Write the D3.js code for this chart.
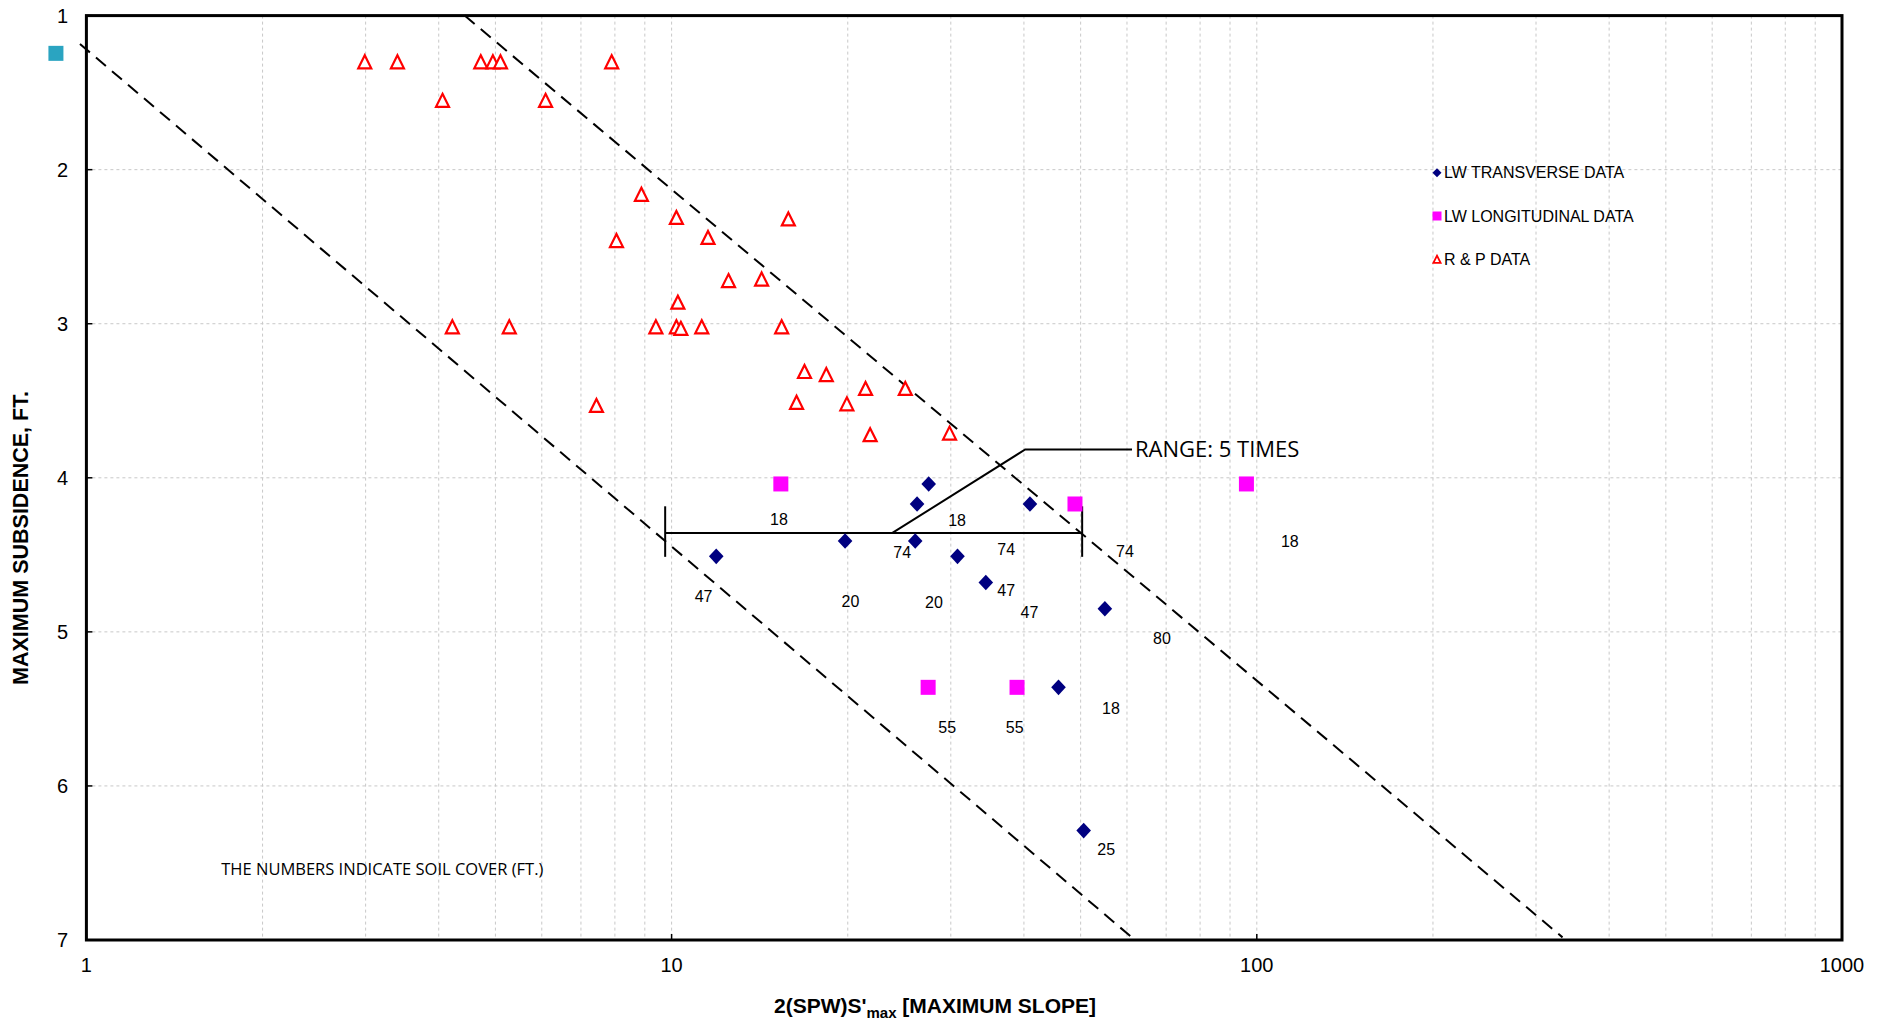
<!DOCTYPE html>
<html>
<head>
<meta charset="utf-8">
<script src="https://cdn.jsdelivr.net/npm/d3@7"></script>
<style>
body { margin: 0; background: #fff; }
text { font-family: Arial, "Liberation Sans", sans-serif; fill: #000; }
.note { font-family: "Open Sans", "Noto Sans", sans-serif; }
</style>
</head>
<body>
<div id="main"></div>
<script>
// axis ticks
var xTicks = [1, 10, 100, 1000];
var yTicks = [1, 2, 3, 4, 5, 6, 7];
var seriesNames = ['LW TRANSVERSE DATA', 'LW LONGITUDINAL DATA', 'R & P DATA'];

// [slope, subsidence]
var lwTransverse = [
  [27.5, 4.04], [26.27, 4.17], [40.96, 4.17], [19.79, 4.41], [26.08, 4.41],
  [11.92, 4.51], [30.8, 4.51], [34.43, 4.68], [55.0, 4.85], [45.83, 5.36],
  [50.6, 6.29]
];
var lwLongitudinal = [
  [15.37, 4.04], [48.9, 4.17], [96.0, 4.04], [27.44, 5.36], [38.93, 5.36]
];
var rpData = [
  [2.99, 1.3], [3.40, 1.3], [4.72, 1.3], [4.95, 1.3], [5.10, 1.3], [7.90, 1.3],
  [4.06, 1.55], [6.09, 1.55],
  [8.88, 2.16], [10.19, 2.31], [15.83, 2.32], [8.05, 2.46], [11.54, 2.44],
  [12.51, 2.72], [14.25, 2.71], [10.25, 2.86],
  [4.22, 3.02], [5.28, 3.02], [9.40, 3.02], [10.19, 3.02], [10.37, 3.03],
  [11.26, 3.02], [15.42, 3.02],
  [16.87, 3.31], [18.38, 3.33], [16.35, 3.51], [19.93, 3.52], [21.45, 3.42],
  [25.08, 3.42], [21.84, 3.72], [29.85, 3.71], [7.44, 3.53]
];
var strayPoint = [[0.887, 1.245]];

// soil cover (ft) labels, placed in data units
var coverText = ['18', '18', '74', '74', '74', '18', '47', '20', '20', '47', '47', '80', '18', '55', '55', '25'];
var coverX = [15.26, 30.75, 24.78, 37.31, 59.54, 113.9, 11.34, 20.21, 28.07, 37.31, 40.88, 68.87, 56.35, 29.58, 38.58, 55.28];
var coverY = [4.27, 4.275, 4.48, 4.466, 4.475, 4.41, 4.767, 4.80, 4.806, 4.73, 4.871, 5.04, 5.498, 5.618, 5.618, 6.41];

// envelope lines
var upperBound = [[4.43, 1], [333, 6.983]];
var lowerBound = [[0.975, 1.184], [61.9, 7]];

// range bracket
var rangeX = [9.75, 50.3];
var rangeY = 4.358;
var rangeTick = [4.185, 4.513];
var rangeLeader = [[23.84, 4.358], [40.2, 3.816], [61.2, 3.816]];
var rangeText = 'RANGE: 5 TIMES';
var noteText = 'THE NUMBERS INDICATE SOIL COVER (FT.)';
var notePos = [1.70, 6.54];


function Sketch() {
  this.width = 1882;
  this.height = 1024;
  this.left = 86.4;
  this.right = 1842;
  this.top = 15.6;
  this.bottom = 940;
}

Sketch.prototype.init = function() {
  this.svg = d3.select('#main')
    .append('svg')
    .attr('width', this.width)
    .attr('height', this.height);

  this.x = d3.scaleLog().domain([1, 1000]).range([this.left, this.right]);
  this.y = d3.scaleLinear().domain([1, 7]).range([this.top, this.bottom]);
};

Sketch.prototype.update = function() {
  var grid = [];
  [1, 10, 100].forEach(function(d) {
    for (var k = 1; k <= 9; k++) grid.push(k * d);
  });
  grid.push(1000);
  this.xGrid = grid;
};

function triPath(s) {
  return 'M0,' + (-s) + 'L' + s + ',' + s + 'L' + (-s) + ',' + s + 'Z';
}
function diamondPath(w, h) {
  return 'M0,' + (-h) + 'L' + w + ',0L0,' + h + 'L' + (-w) + ',0Z';
}

Sketch.prototype.render = function() {
  var x = this.x, y = this.y;
  var svg = this.svg;

  // grid
  var g = svg.append('g').attr('class', 'grid');
  g.selectAll('line.vx')
    .data(this.xGrid)
    .enter()
    .append('line')
    .attr('x1', function(d) { return x(d); })
    .attr('x2', function(d) { return x(d); })
    .attr('y1', this.top)
    .attr('y2', this.bottom)
    .attr('stroke', '#c8c8c8')
    .attr('stroke-width', 1)
    .attr('stroke-dasharray', '3,3');
  g.selectAll('line.hy')
    .data(yTicks.slice(1, -1))
    .enter()
    .append('line')
    .attr('x1', this.left)
    .attr('x2', this.right)
    .attr('y1', function(d) { return y(d); })
    .attr('y2', function(d) { return y(d); })
    .attr('stroke', '#c8c8c8')
    .attr('stroke-width', 1)
    .attr('stroke-dasharray', '3,3');

  // axes ticks and labels
  var ax = svg.append('g');
  ax.selectAll('line.yt')
    .data(yTicks)
    .enter()
    .append('line')
    .attr('x1', this.left)
    .attr('x2', this.left + 6)
    .attr('y1', function(d) { return y(d); })
    .attr('y2', function(d) { return y(d); })
    .attr('stroke', '#000')
    .attr('stroke-width', 1.5);
  ax.selectAll('line.xt')
    .data(xTicks)
    .enter()
    .append('line')
    .attr('x1', function(d) { return x(d); })
    .attr('x2', function(d) { return x(d); })
    .attr('y1', this.bottom)
    .attr('y2', this.bottom - 6)
    .attr('stroke', '#000')
    .attr('stroke-width', 1.5);
  ax.selectAll('text.yl')
    .data(yTicks)
    .enter()
    .append('text')
    .attr('x', 68)
    .attr('y', function(d) { return y(d); })
    .attr('dy', '0.36em')
    .attr('text-anchor', 'end')
    .style('font-size', '20px')
    .text(function(d) { return d; });
  ax.selectAll('text.xl')
    .data(xTicks)
    .enter()
    .append('text')
    .attr('x', function(d) { return x(d); })
    .attr('y', 964.5)
    .attr('dy', '0.36em')
    .attr('text-anchor', 'middle')
    .style('font-size', '20px')
    .text(function(d) { return d; });

  // frame
  svg.append('rect')
    .attr('x', this.left)
    .attr('y', this.top)
    .attr('width', this.right - this.left)
    .attr('height', this.bottom - this.top)
    .attr('fill', 'none')
    .attr('stroke', '#000')
    .attr('stroke-width', 3);

  // envelope lines
  var line = d3.line()
    .x(function(d) { return x(d[0]); })
    .y(function(d) { return y(d[1]); });
  [upperBound, lowerBound].forEach(function(b) {
    svg.append('path')
      .attr('d', line(b))
      .attr('fill', 'none')
      .attr('stroke', '#000')
      .attr('stroke-width', 2)
      .attr('stroke-dasharray', '13,8');
  });

  // range bracket
  var rg = svg.append('g').attr('stroke', '#000').attr('stroke-width', 2).attr('fill', 'none');
  rg.append('line')
    .attr('x1', x(rangeX[0])).attr('x2', x(rangeX[1]))
    .attr('y1', y(rangeY)).attr('y2', y(rangeY));
  rangeX.forEach(function(v) {
    rg.append('line')
      .attr('x1', x(v)).attr('x2', x(v))
      .attr('y1', y(rangeTick[0])).attr('y2', y(rangeTick[1]));
  });
  rg.append('path').attr('d', line(rangeLeader));
  var last = rangeLeader[rangeLeader.length - 1];
  svg.append('text')
    .attr('class', 'note')
    .attr('x', x(last[0]) + 3)
    .attr('y', y(last[1]))
    .attr('dy', '0.36em')
    .style('font-size', '22px')
    .text(rangeText);

  // markers
  svg.selectAll('path.rp')
    .data(rpData)
    .enter()
    .append('path')
    .attr('transform', function(d) { return 'translate(' + x(d[0]) + ',' + y(d[1]) + ')'; })
    .attr('d', triPath(6.5))
    .attr('fill', '#fff')
    .attr('stroke', '#ff0000')
    .attr('stroke-width', 2.2);

  svg.selectAll('rect.lon')
    .data(lwLongitudinal)
    .enter()
    .append('rect')
    .attr('x', function(d) { return x(d[0]) - 7.5; })
    .attr('y', function(d) { return y(d[1]) - 7.5; })
    .attr('width', 15)
    .attr('height', 15)
    .attr('fill', '#ff00ff');

  svg.selectAll('path.tr')
    .data(lwTransverse)
    .enter()
    .append('path')
    .attr('transform', function(d) { return 'translate(' + x(d[0]) + ',' + y(d[1]) + ')'; })
    .attr('d', diamondPath(7.3, 7.8))
    .attr('fill', '#000080');

  svg.selectAll('rect.stray')
    .data(strayPoint)
    .enter()
    .append('rect')
    .attr('x', function(d) { return x(d[0]) - 7.5; })
    .attr('y', function(d) { return y(d[1]) - 7.5; })
    .attr('width', 15)
    .attr('height', 15)
    .attr('fill', '#2aa4c1');

  // soil cover labels
  svg.selectAll('text.cover')
    .data(coverText)
    .enter()
    .append('text')
    .attr('x', function(d, i) { return x(coverX[i]); })
    .attr('y', function(d, i) { return y(coverY[i]); })
    .attr('dy', '0.36em')
    .attr('text-anchor', 'middle')
    .style('font-size', '16px')
    .text(function(d) { return d; });

  svg.append('text')
    .attr('class', 'note')
    .attr('x', x(notePos[0]))
    .attr('y', y(notePos[1]))
    .attr('dy', '0.36em')
    .style('font-size', '16.5px')
    .text(noteText);

  // legend
  var lg = svg.append('g').attr('transform', 'translate(1437,172.7)');
  var rows = lg.selectAll('g')
    .data(seriesNames)
    .enter()
    .append('g')
    .attr('transform', function(d, i) { return 'translate(0,' + (i * 43.3) + ')'; });
  rows.each(function(d, i) {
    var r = d3.select(this);
    if (i === 0) {
      r.append('path').attr('d', diamondPath(4.5, 4.5)).attr('fill', '#000080');
    } else if (i === 1) {
      r.append('rect').attr('x', -4.5).attr('y', -4.5).attr('width', 9).attr('height', 9).attr('fill', '#ff00ff');
    } else {
      r.append('path').attr('d', triPath(3.6)).attr('fill', '#fff').attr('stroke', '#ff0000').attr('stroke-width', 1.8);
    }
  });
  rows.append('text')
    .attr('x', 7)
    .attr('dy', '0.36em')
    .style('font-size', '16px')
    .text(function(d) { return d; });

  // axis titles
  var xt = svg.append('text')
    .attr('x', 935)
    .attr('y', 1013)
    .attr('text-anchor', 'middle')
    .style('font-size', '21px')
    .style('font-weight', 'bold');
  xt.append('tspan').text("2(SPW)S'");
  xt.append('tspan').attr('dy', 5).style('font-size', '15px').text('max');
  xt.append('tspan').attr('dy', -5).text(' [MAXIMUM SLOPE]');

  svg.append('text')
    .attr('transform', 'translate(28,538) rotate(-90)')
    .attr('text-anchor', 'middle')
    .style('font-size', '21.5px')
    .style('font-weight', 'bold')
    .text('MAXIMUM SUBSIDENCE, FT.');
};


document.addEventListener('DOMContentLoaded', function() {
  var s = new Sketch();
  s.init();
  s.update();
  s.render();
});
</script>
</body>
</html>
